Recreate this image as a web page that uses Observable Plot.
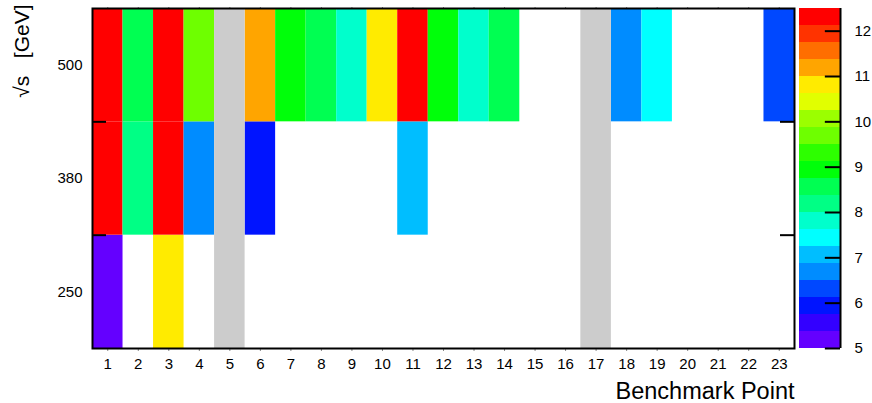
<!DOCTYPE html>
<html>
<head>
<meta charset="utf-8">
<script src="https://cdn.jsdelivr.net/npm/d3@7"></script>
<script src="https://cdn.jsdelivr.net/npm/@observablehq/plot@0.6"></script>
<style>
  body { margin: 0; background: #fff; }
  #wrap { position: relative; width: 872px; height: 403px; font-family: "Liberation Sans", Arial, sans-serif; }
  #wrap svg { position: absolute; top: 0; }
</style>
</head>
<body>
<div id="wrap"></div>
<script>
// ---- data ----
const points = d3.range(1, 24); // benchmark points 1..23
const energies = [250, 380, 500];
const grayPoints = [5, 17];
const values250 = [5.2, null, 10.8, null, null, null, null, null, null, null, null, null, null, null, null, null, null, null, null, null, null, null, null];
const values380 = [12.3, 8.2, 12.3, 6.7, null, 5.9, null, null, null, null, 7.05, null, null, null, null, null, null, null, null, null, null, null, null];
const values500 = [12.3, 8.55, 12.3, 9.7, null, 11.2, 8.9, 8.55, 7.8, 10.8, 12.3, 8.9, 7.8, 8.55, null, null, null, 6.7, 7.45, null, null, null, 6.3];
const levels = [5, 5.375, 5.75, 6.125, 6.5, 6.875, 7.25, 7.625, 8, 8.375, 8.75, 9.125, 9.5, 9.875, 10.25, 10.625, 11, 11.375, 11.75, 12.125, 12.5];
const palette = ["#6400ff", "#3300ff", "#0014ff", "#0048ff", "#008cff", "#00beff", "#00ffff", "#00ffcc", "#00ff85", "#00ff52", "#00ff0a", "#2dff00", "#6eff00", "#9bff00", "#e1ff00", "#ffeb00", "#ffa500", "#ff6e00", "#ff3300", "#ff0000"];
const colorTicks = [5, 6, 7, 8, 9, 10, 11, 12];

// ---- derived tables ----
const rows = [values250, values380, values500];
const cells = [];
rows.forEach((vals, j) => vals.forEach((v, i) => { if (v != null) cells.push({x: points[i], j, v}); }));
const bands = levels.slice(0, -1).map((lo, i) => ({lo, hi: levels[i + 1], mid: (lo + levels[i + 1]) / 2}));
const colorScale = {type: "threshold", domain: levels.slice(1, -1), range: palette};
const font = {fontFamily: "'Liberation Sans', Arial, sans-serif", fontSize: "15px", background: "transparent", color: "black", overflow: "visible"};

const main = Plot.plot({
  width: 872, height: 403,
  marginLeft: 92, marginRight: 78, marginTop: 8, marginBottom: 55,
  style: font,
  x: {domain: [0.5, 23.5], axis: null},
  y: {domain: [0, 3], axis: null},
  color: colorScale,
  marks: [
    Plot.rect(cells, {x1: d => d.x - 0.5, x2: d => d.x + 0.5, y1: d => d.j, y2: d => d.j + 1, fill: "v"}),
    Plot.rect(grayPoints, {x1: d => d - 0.5, x2: d => d + 0.5, y1: 0, y2: 3, fill: "#cccccc"}),
    Plot.axisX({ticks: points, tickSize: 3, tickPadding: 7, tickFormat: d => String(d), fontSize: 15, stroke: "#888"}),
    Plot.axisX({anchor: "top", ticks: points, tickSize: 2, tickFormat: () => "", stroke: "#888"}),
    Plot.axisY({ticks: [0.5, 1.5, 2.5], tickSize: 0, tickPadding: 10, tickFormat: d => String(energies[Math.floor(d)]), fontSize: 15}),
    Plot.ruleY([1, 2], {x1: 0.5, x2: 0.5 + 14 / 30.52, stroke: "black", strokeWidth: 2}),
    Plot.ruleY([1, 2], {x1: 23.5 - 14 / 30.52, x2: 23.5, stroke: "black", strokeWidth: 2}),
    Plot.frame({stroke: "black", strokeWidth: 2}),
    Plot.text(["Benchmark Point"], {frameAnchor: "bottom-right", dy: 50, textAnchor: "end", fontSize: 23.5, lineAnchor: "bottom"}),
    Plot.text(["\u221As\u00a0\u00a0\u00a0[GeV]"], {frameAnchor: "top-left", dx: -70, dy: -4, rotate: -90, textAnchor: "end", lineAnchor: "middle", fontSize: 21})
  ]
});
main.style.left = "0px";

const bar = Plot.plot({
  width: 73, height: 403,
  marginLeft: 0, marginRight: 32, marginTop: 8, marginBottom: 55,
  style: font,
  x: {domain: [0, 1], axis: null},
  y: {domain: [5, 12.5], axis: null},
  color: colorScale,
  marks: [
    Plot.rect(bands, {x1: 0, x2: 1, y1: "lo", y2: "hi", fill: "mid"}),
    Plot.ruleY(colorTicks, {x1: 0.63, x2: 1, stroke: "black", strokeWidth: 2}),
    Plot.ruleX([1], {stroke: "black", strokeWidth: 2}),
    Plot.axisY({anchor: "right", ticks: colorTicks, tickSize: 0, tickPadding: 14, fontSize: 15})
  ]
});
bar.style.left = "799px";

const wrap = document.getElementById("wrap");
wrap.appendChild(main);
wrap.appendChild(bar);
</script>
</body>
</html>
